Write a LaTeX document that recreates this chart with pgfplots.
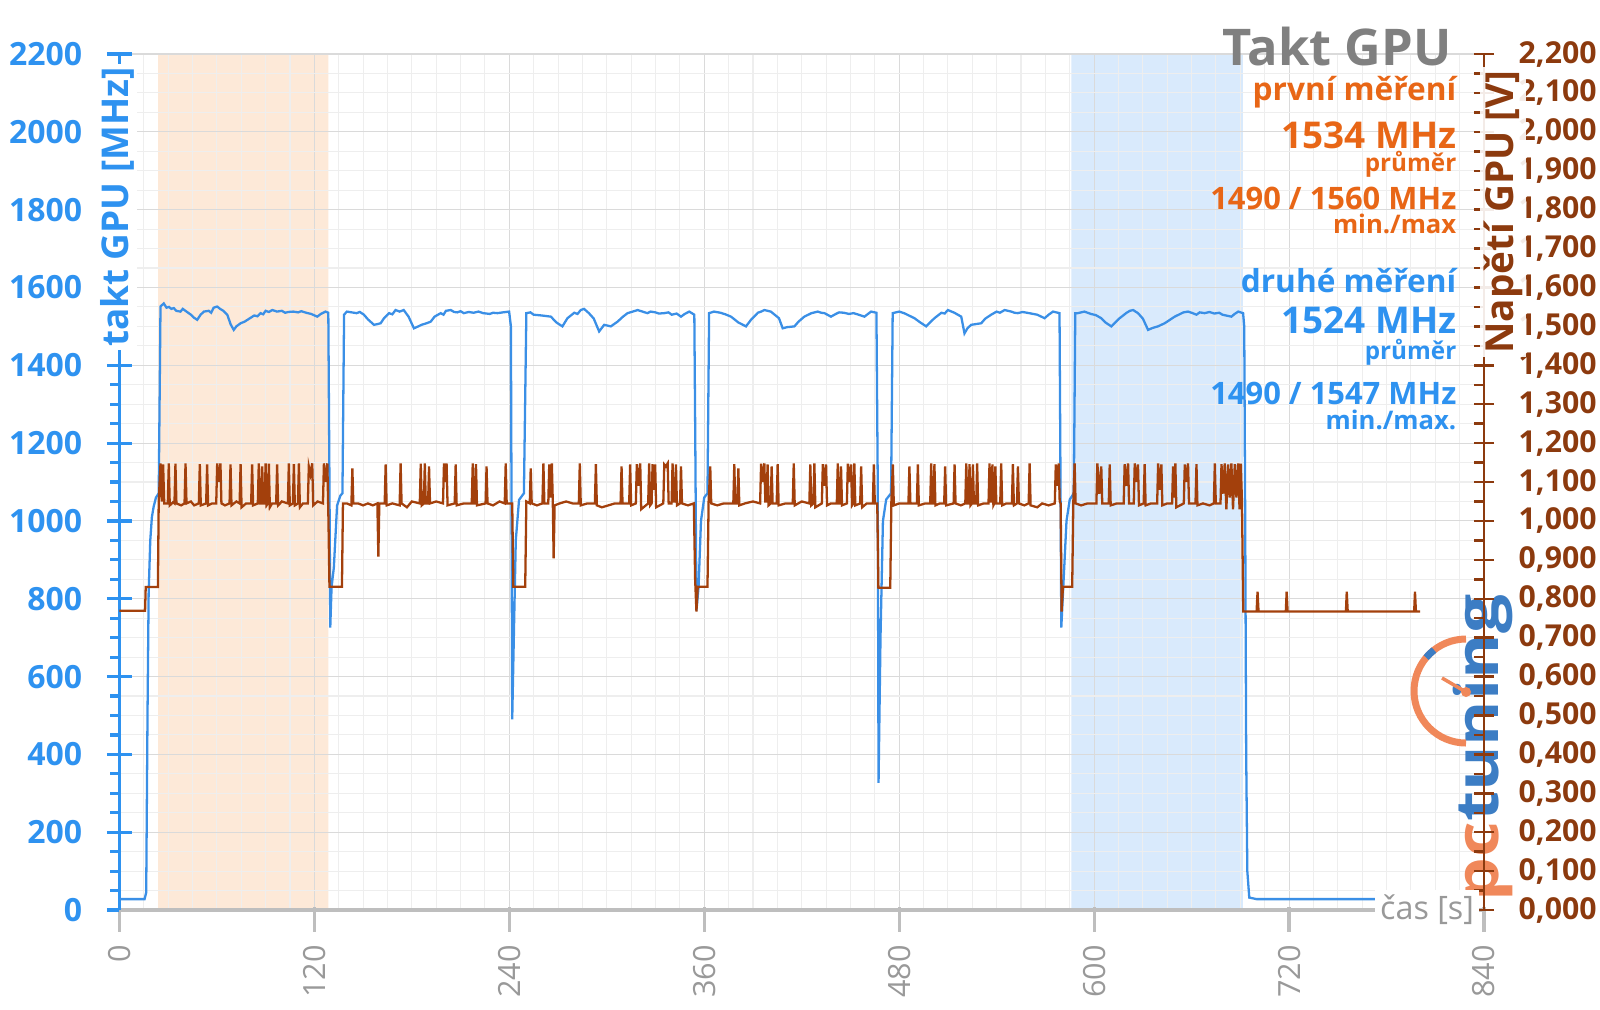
\documentclass[border=0pt]{standalone}
\usepackage{pgfplots}
\pgfplotsset{compat=1.18}
\usepackage{fontspec}
\setmainfont{Open Sans}

\definecolor{cblue}{RGB}{46,146,240}
\definecolor{cline}{RGB}{58,143,230}
\definecolor{cbrown}{RGB}{140,58,14}
\definecolor{cbrline}{RGB}{163,64,12}
\definecolor{corange}{RGB}{232,102,22}
\definecolor{cgray}{RGB}{128,128,128}
\definecolor{tgray}{RGB}{153,153,153}
\definecolor{bandor}{RGB}{253,233,216}
\definecolor{bandbl}{RGB}{217,234,252}
\definecolor{gmajor}{RGB}{218,218,218}
\definecolor{gminor}{RGB}{238,238,238}
\definecolor{xaxis}{RGB}{190,190,190}
\definecolor{logoor}{RGB}{240,136,90}
\definecolor{logobl}{RGB}{60,125,196}

\begin{document}
\begin{tikzpicture}

% watermark
\node[rotate=90, xscale=1.16, anchor=base west, inner sep=0pt, font=\fontsize{17}{17}\selectfont\bfseries]
  at (14.98,1.07) {\textcolor{logoor}{pc}\textcolor{logobl}{tuning}};
\draw[logoor, line width=0.07cm] (14.66,3.70) arc[start angle=90, end angle=270, radius=0.52];
\draw[logobl, line width=0.07cm] (14.66,3.18) ++(128:0.52) arc[start angle=128, end angle=140, radius=0.52];
\draw[logoor, line width=0.035cm] (14.66,3.17) -- (14.42,3.31);
\fill[logoor] (14.66,3.17) circle (0.05);

% clock axis (MHz)
\begin{axis}[
  at={(1.194cm,0.99cm)}, anchor=south west,
  scale only axis, width=13.646cm, height=8.56cm,
  xmin=0, xmax=840, ymin=0, ymax=2200,
  set layers,
  axis x line=bottom, axis y line=left,
  x axis line style={xaxis, line width=1.4pt, -},
  y axis line style={cblue, line width=0.9pt, -},
  xtick={0,120,240,360,480,600,720,840}, minor x tick num=7,
  ytick={0,200,...,2200}, minor y tick num=3,
  grid=both,
  major grid style={gmajor, line width=0.3pt},
  minor grid style={gminor, line width=0.3pt},
  tick align=center, major tick length=0.25cm, minor tick length=0.09cm,
  major x tick style={xaxis, line width=0.9pt, yshift=-0.09cm},
  minor x tick style={draw=none},
  major y tick style={cblue, line width=0.9pt},
  minor y tick style={cblue, line width=0.9pt, xshift=-0.045cm},
  /pgf/number format/assume math mode=true,
  /pgf/number format/1000 sep={},
  yticklabel style={font=\fontsize{9.1}{10}\selectfont\bfseries, text=cblue, anchor=east, inner sep=0pt, xshift=-0.24cm},
  xticklabel style={font=\fontsize{8.7}{10}\selectfont, text=tgray, yshift=-0.22cm, rotate=90, anchor=east, inner sep=0pt},
]
% measurement windows
\addplot[draw=none, fill=bandor, on layer=axis background] coordinates {(23.9,0) (23.9,2200) (128.6,2200) (128.6,0) (23.9,0)};
\addplot[draw=none, fill=bandbl, on layer=axis background] coordinates {(586,0) (586,2200) (691.5,2200) (691.5,0) (586,0)};

% GPU clock
\addplot[cline, line width=0.65pt, mark=none] coordinates {
(0,28) (15.5,28) (16.5,45) (17.3,500) (18,815) (19,950) (20,1010) (21.1,1037) (22.5,1060) (24.2,1071) (25.3,1551) (27.3,1559) (29,1548) (30.5,1550) (32,1545) (33.5,1547) (35,1540) (37.6,1538) (39,1545) (40,1542) (42,1536) (44,1530) (46,1522) (47.9,1517) (50,1530) (52,1538) (55,1540) (56.5,1535) (58,1548) (60.2,1551) (62,1545) (64,1540) (66.4,1530) (68.5,1505) (70.4,1491) (72,1500) (74.6,1508) (77,1512) (80,1520) (83,1528) (85,1526) (86.9,1534) (88.5,1531) (90,1540) (92,1537) (94.1,1542) (97,1538) (100,1540) (102,1535) (104,1537) (107,1538) (110,1536) (112,1539) (115,1535) (118,1532) (121.8,1525) (124,1532) (126.9,1538) (128.6,1535) (129.3,1100) (129.8,726) (130.6,830) (132,880) (134,1040) (136,1065) (137.3,1071) (138.3,1530)
(140,1538) (143,1536) (146,1534) (148,1537) (150.5,1530) (153,1518) (156.7,1504) (159,1506) (160.8,1508) (162.9,1521) (166,1534) (168,1531) (170,1542) (172.5,1538) (175,1542) (178,1525) (181.3,1495) (184,1500) (186,1504) (189,1508) (191.6,1512) (194,1525) (197.8,1534) (199.5,1530) (201,1540) (204,1542) (206,1537) (208,1536) (210,1539) (212,1534) (215,1537) (218,1535) (221,1538) (224,1534) (228,1532) (230,1535) (232.7,1534) (236,1536) (239.9,1538) (241,1500) (241.5,900) (241.8,490) (243,745) (244,950) (246,1054) (249,1071) (250.5,1534)
(253,1536) (255,1530) (260,1528) (265.6,1525) (269,1510) (272.7,1500) (275.8,1521) (280,1535) (282,1532) (284,1542) (286,1545) (289,1534) (292,1520) (295.3,1487) (298.4,1504) (302.5,1500) (306.6,1512) (310,1525) (312.8,1534) (316,1538) (319,1542) (322,1538) (325,1534) (327,1538) (330,1536) (332,1533) (335.4,1534) (338,1536) (340,1530) (343,1533) (345.7,1525) (348,1532) (350.8,1538) (353.9,1530) (354.5,1200) (355.2,770) (356.5,830) (358,1000) (360,1060) (362,1071) (363,1534)
(366,1538) (370,1535) (373,1531) (376.5,1525) (381,1510) (385.7,1500) (388.8,1517) (393,1535) (395,1538) (397,1542) (401,1538) (406,1521) (408.3,1495) (411,1498) (415.5,1500) (418,1512) (421.6,1525) (426,1534) (429.9,1538) (432,1535) (434,1534) (438,1525) (441,1532) (443,1536) (446,1535) (449,1532) (452,1534) (455,1530) (458.6,1525) (462.7,1538) (466,1535) (466.8,1100) (467.3,327) (468.5,700) (470,1000) (472,1055) (475,1071) (476,1534)
(480,1538) (483,1534) (485,1530) (489.4,1521) (493,1510) (496.6,1500) (499,1510) (501.7,1521) (506,1535) (508,1533) (510,1542) (514,1535) (518.2,1525) (520.2,1482) (522,1495) (524.3,1504) (530.5,1508) (533,1520) (536.6,1530) (540,1538) (542,1535) (544.9,1542) (549,1538) (551,1535) (553,1534) (556,1537) (560,1534) (565,1530) (569.5,1521) (572,1530) (574.7,1538) (578.7,1534) (579.3,1100) (579.8,726) (581,830) (583,1000) (585,1055) (587.5,1071) (588.4,1534)
(590,1534) (594,1538) (598,1532) (601,1529) (604.4,1521) (607,1510) (610.6,1500) (613,1510) (615.7,1521) (620,1535) (622,1540) (624,1542) (627,1534) (630,1520) (633.2,1491) (636,1496) (639.3,1500) (643.4,1508) (646,1515) (649.6,1525) (653,1532) (655,1536) (657.8,1538) (660,1535) (663,1530) (665,1536) (668,1534) (671,1537) (674,1533) (677,1535) (679,1530) (684.5,1525) (686.5,1532) (688.7,1538) (691.7,1534) (692.4,1500) (693,1000) (693.6,400) (694.3,100) (695.5,32) (700,28) (790,28)
};
\end{axis}

% voltage axis (V)
\begin{axis}[
  at={(1.194cm,0.99cm)}, anchor=south west,
  scale only axis, width=13.646cm, height=8.56cm,
  xmin=0, xmax=840, ymin=0, ymax=2.2,
  axis x line=none, axis y line=right,
  y axis line style={cbrown, line width=0.7pt, -},
  ytick={0,0.1,0.2,0.3,0.4,0.5,0.6,0.7,0.8,0.9,1.0,1.1,1.2,1.3,1.4,1.5,1.6,1.7,1.8,1.9,2.0,2.1,2.2},
  minor y tick num=1,
  tick align=center, major tick length=0.2cm, minor tick length=0.1cm,
  major y tick style={cbrown, line width=0.7pt},
  minor y tick style={cbrown, line width=0.7pt, xshift=-0.05cm},
  /pgf/number format/assume math mode=true,
  /pgf/number format/fixed, /pgf/number format/fixed zerofill,
  /pgf/number format/precision=3, /pgf/number format/use comma,
  yticklabel style={font=\fontsize{8.6}{10}\selectfont\bfseries, text=cbrown, anchor=west, inner sep=0pt, xshift=0.24cm},
]
\addplot[cbrline, line width=0.65pt, mark=none] coordinates {
(0,0.769) (15.8,0.769) (16.2,0.830) (23.7,0.830) (24.2,1.05)
(25.3,1.148) (26.1,1.05) (26.9,1.145) (27.6,1.045) (29.8,1.045) (30.4,1.148) (31,1.04) (33,1.048) (33.9,1.045) (34.5,1.147) (35.1,1.045) (38,1.04) (40.1,1.045) (40.7,1.148) (41.3,1.045) (44,1.05) (46,1.04) (48.9,1.045) (49.5,1.146) (50.1,1.04) (53.4,1.045) (54,1.145) (54.6,1.04) (57,1.045) (59.6,1.045) (60.2,1.148) (61.2,1.10) (62.2,1.148) (62.8,1.045) (65,1.04) (67.8,1.045) (68.4,1.145) (69,1.04) (72,1.05) (74,1.045) (74.6,1.146) (75.2,1.035) (78,1.045) (81.1,1.045) (81.7,1.145) (82.3,1.04) (85.2,1.045) (85.8,1.148) (86.4,1.045) (87.3,1.045) (87.9,1.14) (88.5,1.045) (89.4,1.045) (90,1.148) (90.6,1.04) (91.4,1.045) (92,1.147) (92.6,1.035) (94,1.045) (96.5,1.045) (97.1,1.145) (97.7,1.04) (100,1.05) (103.7,1.045) (104.3,1.148) (104.9,1.04) (106.8,1.045) (107.4,1.146) (108,1.04) (109.9,1.045) (110.5,1.148) (111.1,1.035) (113,1.045) (116,1.045) (116.6,1.14) (117.6,1.12) (118.7,1.148) (119.3,1.04) (122,1.05) (125.3,1.045) (125.9,1.148) (127,1.10) (128,1.148) (128.7,1.0) (129.3,0.831) (137,0.831) (137.6,1.045)
(140,1.045) (142.8,1.04) (143.4,1.135) (144,1.045) (147,1.045) (150,1.04) (153,1.045) (156,1.04) (158.8,1.045) (159.4,0.908) (160,1.045) (163.3,1.045) (163.9,1.145) (164.5,1.04) (168,1.045) (172.5,1.04) (173.1,1.148) (173.7,1.045) (177,1.035) (180,1.05) (184.9,1.045) (185.5,1.147) (186.1,1.04) (187.4,1.045) (188,1.148) (188.6,1.045) (190,1.045) (190.6,1.14) (191.2,1.045) (195,1.05) (199.2,1.045) (199.8,1.148) (200.6,1.10) (201.4,1.148) (202,1.04) (206.4,1.045) (207,1.145) (207.6,1.04) (212,1.045) (216.9,1.045) (217.5,1.148) (218.2,1.045) (218.9,1.045) (219.5,1.146) (220.1,1.04) (225.4,1.045) (226,1.14) (226.6,1.045) (230,1.04) (234,1.05) (237.2,1.045) (237.8,1.148) (238.4,1.045) (241.8,1.045) (242.5,0.831) (249.8,0.831) (250.5,1.05)
(252.6,1.045) (253.2,1.135) (253.8,1.045) (257,1.04) (260.4,1.045) (261,1.148) (261.6,1.045) (264,1.045) (264.6,1.145) (265.4,1.06) (266.2,1.148) (266.8,1.045) (267.3,0.904) (267.9,1.04) (271,1.045) (275,1.05) (279,1.045) (282.8,1.045) (283.4,1.148) (284,1.04) (288,1.045) (292.7,1.045) (293.3,1.146) (293.9,1.04) (297,1.035) (301,1.04) (305,1.045) (308.5,1.045) (309.1,1.14) (309.7,1.045) (313.8,1.045) (314.4,1.145) (315,1.04) (317.9,1.045) (318.5,1.146) (319.5,1.09) (320.6,1.148) (321.2,1.03) (325.5,1.045) (326.1,1.148) (326.7,1.04) (327.6,1.045) (328.2,1.146) (328.9,1.08) (329.8,1.145) (330.4,1.035) (334.8,1.045) (335.4,1.145) (336.4,1.14) (337.5,1.148) (338.1,1.045) (339.9,1.045) (340.5,1.148) (341.3,1.05) (342,1.05) (342.6,1.145) (343.2,1.04) (345.1,1.045) (345.7,1.14) (346.3,1.045) (350,1.04) (353.6,1.045) (354.4,0.85) (355.2,0.767) (356,0.831) (362,0.831) (362.7,1.05)
(363.7,1.14) (364.3,1.045) (368,1.04) (372,1.045) (377.9,1.045) (378.5,1.146) (379.1,1.045) (380.4,1.045) (381,1.135) (381.6,1.04) (385,1.045) (390,1.05) (394.4,1.045) (395,1.147) (396,1.10) (397,1.148) (397.6,1.05) (398.4,1.05) (399,1.145) (399.6,1.04) (400.9,1.045) (401.5,1.14) (402.1,1.045) (404.6,1.045) (405.2,1.146) (405.8,1.04) (410,1.045) (414.5,1.045) (415.1,1.148) (415.7,1.04) (420,1.05) (424.7,1.045) (425.3,1.145) (425.9,1.04) (427.2,1.045) (427.8,1.148) (428.4,1.035) (432.4,1.045) (433,1.146) (434,1.09) (435,1.145) (435.6,1.04) (438,1.045) (441.6,1.045) (442.2,1.148) (442.8,1.045) (443.6,1.045) (444.2,1.14) (444.8,1.04) (447.8,1.045) (448.4,1.147) (449.4,1.10) (450.4,1.145) (451,1.04) (451.8,1.045) (452.4,1.148) (453,1.04) (456,1.045) (456.6,1.14) (457.2,1.035) (460,1.045) (463.8,1.045) (464.4,1.145) (465,1.045) (466.5,1.045) (467.2,0.828) (474.5,0.828) (475.2,1.05)
(476.1,1.145) (476.7,1.04) (480,1.045) (485.7,1.045) (486.3,1.14) (486.9,1.045) (490.9,1.045) (491.5,1.145) (492.1,1.04) (496,1.045) (499.1,1.045) (499.7,1.148) (500.3,1.045) (501.1,1.045) (501.7,1.146) (502.3,1.04) (505,1.045) (507.7,1.045) (508.3,1.14) (508.9,1.04) (513.5,1.045) (514.1,1.145) (514.7,1.045) (518,1.04) (520.7,1.045) (521.3,1.148) (521.9,1.045) (522.7,1.045) (523.3,1.146) (523.9,1.04) (524.8,1.045) (525.4,1.145) (526,1.045) (527.4,1.045) (528,1.148) (528.6,1.04) (532,1.045) (535,1.045) (535.6,1.148) (536.2,1.05) (536.8,1.05) (537.4,1.145) (538,1.04) (538.6,1.045) (539.2,1.14) (539.8,1.045) (542.2,1.045) (542.8,1.148) (543.4,1.04) (546,1.045) (549.4,1.045) (550,1.146) (550.6,1.04) (552.5,1.045) (553.1,1.14) (553.7,1.045) (557,1.04) (559.7,1.045) (560.3,1.148) (560.9,1.04) (565,1.035) (568,1.045) (572,1.04) (575.8,1.045) (576.4,1.145) (577.3,1.09) (578.2,1.148) (578.8,1.05) (579.4,1.045) (580,0.767) (580.8,0.831) (586.5,0.831) (587.2,1.05)
(588,1.148) (588.6,1.045) (592,1.04) (596,1.045) (601.4,1.045) (602,1.148) (603.2,1.07) (604.4,1.14) (605,1.045) (609,1.045) (609.6,1.145) (610.2,1.04) (614,1.045) (618.2,1.045) (618.8,1.146) (619.8,1.09) (620.9,1.148) (621.5,1.045) (624.4,1.045) (625,1.148) (626,1.10) (627,1.145) (627.6,1.04) (630.5,1.045) (631.1,1.146) (631.7,1.04) (635,1.045) (638.8,1.045) (639.4,1.148) (640.4,1.08) (641.4,1.145) (642,1.04) (645,1.045) (648,1.045) (648.6,1.14) (649.3,1.06) (650,1.148) (650.6,1.035) (655.2,1.045) (655.8,1.145) (656.8,1.10) (657.8,1.148) (658.4,1.045) (662.4,1.045) (663,1.146) (663.6,1.04) (667,1.045) (671,1.04) (673.7,1.045) (674.3,1.148) (674.9,1.045) (677.8,1.045) (678.4,1.146) (679.4,1.07) (680.4,1.148) (681.4,1.03) (682.5,1.145) (683.5,1.06) (684.5,1.148) (685.5,1.03) (686.6,1.146) (687.6,1.06) (688.7,1.148) (689.5,1.03) (690.3,1.147) (691,1.05) (691.8,0.767)
(700,0.767) (700.6,0.818) (701.2,0.767) (718,0.767) (718.5,0.818) (719.1,0.767) (755,0.767) (755.5,0.818) (756.1,0.767) (797,0.767) (797.5,0.818) (798.1,0.767) (800.6,0.767)
};
\end{axis}

% axis titles
\node[rotate=90, fill=white, inner sep=1pt, text=cblue, font=\fontsize{10.5}{12}\selectfont\bfseries] at (1.17,8.02) {takt GPU [MHz]};
\node[rotate=90, fill=white, fill opacity=0.9, text opacity=1, inner sep=1pt, text=cbrown, font=\fontsize{11}{12}\selectfont\bfseries] at (15.03,7.97) {Napětí GPU [V]};
\node[anchor=east, fill=white, inner sep=1.5pt, text=tgray, font=\fontsize{9.2}{10}\selectfont] at (14.80,0.99) {čas [s]};

% summary block
\node[anchor=base east, inner sep=0pt, text=cgray, font=\fontsize{14.4}{16}\selectfont\bfseries] at (14.52,9.44) {Takt GPU};
\node[anchor=base east, inner sep=0pt, text=corange, font=\fontsize{9}{10}\selectfont\bfseries] at (14.57,9.09) {první měření};
\node[anchor=base east, inner sep=0pt, text=corange, font=\fontsize{10.5}{11}\selectfont\bfseries] at (14.57,8.61) {1534 MHz};
\node[anchor=base east, inner sep=0pt, text=corange, font=\fontsize{6.9}{7}\selectfont\bfseries] at (14.57,8.38) {průměr};
\node[anchor=base east, inner sep=0pt, text=corange, font=\fontsize{8.8}{9}\selectfont\bfseries] at (14.57,8.00) {1490 / 1560 MHz};
\node[anchor=base east, inner sep=0pt, text=corange, font=\fontsize{7.3}{8}\selectfont\bfseries] at (14.57,7.76) {min./max};
\node[anchor=base east, inner sep=0pt, text=cblue, font=\fontsize{9}{10}\selectfont\bfseries] at (14.57,7.17) {druhé měření};
\node[anchor=base east, inner sep=0pt, text=cblue, font=\fontsize{10.5}{11}\selectfont\bfseries] at (14.57,6.76) {1524 MHz};
\node[anchor=base east, inner sep=0pt, text=cblue, font=\fontsize{6.9}{7}\selectfont\bfseries] at (14.57,6.50) {průměr};
\node[anchor=base east, inner sep=0pt, text=cblue, font=\fontsize{8.8}{9}\selectfont\bfseries] at (14.57,6.05) {1490 / 1547 MHz};
\node[anchor=base east, inner sep=0pt, text=cblue, font=\fontsize{7.3}{8}\selectfont\bfseries] at (14.57,5.80) {min./max.};

\pgfresetboundingbox
\useasboundingbox (0,0) rectangle (16,10.09);
\end{tikzpicture}
\end{document}
